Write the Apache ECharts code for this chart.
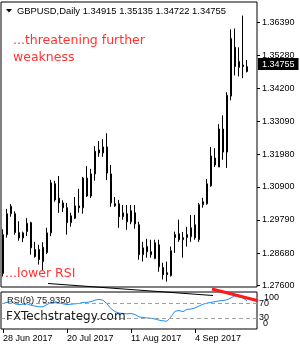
<!DOCTYPE html>
<html><head><meta charset="utf-8">
<script src="https://cdn.jsdelivr.net/npm/echarts@6/dist/echarts.min.js"></script>
<style>html,body{margin:0;padding:0;background:#fff}#c{width:300px;height:350px}</style>
</head><body><div id="c"></div>
<script>
// ---------- data ----------
const symbolName = 'GBPUSD,Daily';
const dates = ['2017-06-28','2017-06-29','2017-06-30','2017-07-03','2017-07-04','2017-07-05','2017-07-06','2017-07-07',
  '2017-07-10','2017-07-11','2017-07-12','2017-07-13','2017-07-14','2017-07-17','2017-07-18','2017-07-19','2017-07-20',
  '2017-07-21','2017-07-24','2017-07-25','2017-07-26','2017-07-27','2017-07-28','2017-07-31','2017-08-01','2017-08-02',
  '2017-08-03','2017-08-04','2017-08-07','2017-08-08','2017-08-09','2017-08-10','2017-08-11','2017-08-14','2017-08-15',
  '2017-08-16','2017-08-17','2017-08-18','2017-08-21','2017-08-22','2017-08-23','2017-08-24','2017-08-25','2017-08-28',
  '2017-08-29','2017-08-30','2017-08-31','2017-09-01','2017-09-04','2017-09-05','2017-09-06','2017-09-07','2017-09-08',
  '2017-09-11','2017-09-12','2017-09-13','2017-09-14','2017-09-15','2017-09-18','2017-09-19','2017-09-20','2017-09-21'];
const emptySlots = ['', ' '];   // right-hand empty space of the chart
const opens  = [1.2800,1.2930,1.3000,1.3000,1.2937,1.2919,1.2940,1.2970,1.2880,1.2880,1.2840,1.2870,1.2936,1.3100,1.3052,1.3036,1.3020,
  1.2970,1.2985,1.3026,1.3020,1.3119,1.3059,1.3133,1.3213,1.3203,1.3223,1.3133,1.3033,1.3033,1.2990,1.3000,1.2973,1.3003,1.2963,
  1.2863,1.2890,1.2863,1.2850,1.2896,1.2820,1.2796,1.2793,1.2920,1.2933,1.2913,1.2920,1.2923,1.2963,1.2913,1.3030,1.3033,1.3093,
  1.3186,1.3156,1.3283,1.3206,1.3393,1.3556,1.3489,1.3497,1.34915];
const highs  = [1.2948,1.3016,1.3032,1.3008,1.2975,1.2940,1.2985,1.2973,1.2906,1.2896,1.2905,1.2953,1.3113,1.3110,1.3126,1.3045,1.3036,
  1.3003,1.3056,1.3083,1.3123,1.3159,1.3150,1.3226,1.3243,1.3249,1.3269,1.3163,1.3056,1.3046,1.3029,1.3029,1.3029,1.3029,1.2973,
  1.2906,1.2916,1.2913,1.2913,1.2913,1.2836,1.2840,1.2890,1.2940,1.2980,1.2939,1.2956,1.2996,1.2996,1.3036,1.3053,1.3116,1.3223,
  1.3219,1.3299,1.3329,1.3406,1.3616,1.3619,1.3556,1.3662,1.35135];
const lows   = [1.2790,1.2920,1.2990,1.2930,1.2910,1.2905,1.2925,1.2863,1.2853,1.2830,1.2810,1.2865,1.2925,1.3040,1.3003,1.3006,1.2930,
  1.2957,1.2982,1.3003,1.3000,1.3056,1.3052,1.3110,1.3190,1.3190,1.3112,1.3023,1.3023,1.2953,1.2980,1.2946,1.2965,1.2950,1.2846,
  1.2840,1.2853,1.2853,1.2848,1.2806,1.2780,1.2773,1.2790,1.2869,1.2906,1.2853,1.2890,1.2906,1.2913,1.2906,1.3020,1.3030,1.3090,
  1.3156,1.3156,1.3180,1.3153,1.3379,1.3462,1.3459,1.3453,1.34722];
const closes = [1.2930,1.3000,1.3025,1.2937,1.2919,1.2936,1.2968,1.2886,1.2857,1.2847,1.2888,1.2936,1.3103,1.3046,1.3036,1.3020,1.2970,
  1.2993,1.3026,1.3020,1.3119,1.3059,1.3133,1.3209,1.3203,1.3223,1.3136,1.3036,1.3026,1.2990,1.3003,1.2973,1.3010,1.2966,1.2863,
  1.2886,1.2873,1.2873,1.2903,1.2823,1.2796,1.2803,1.2876,1.2930,1.2913,1.2920,1.2930,1.2953,1.2920,1.3030,1.3040,1.3100,1.3193,
  1.3163,1.3283,1.3206,1.3396,1.3586,1.3492,1.3509,1.3492,1.34755];
const rsi = [69,72,74,68,66,67,68,64,62,60,60,66,72,71,70,68,66,67,68,69,72,72,74,78,80,78,68,55,47,43,42,41,42,39,33,31,30,29,27,24,
  22,21,33,48,50,47,53,54,57,62,67,70,72,74,76,77,79,84,90,87,84,75.935];
const priceTicks = [1.36390,1.35280,1.34200,1.33090,1.31980,1.30900,1.29790,1.28680,1.27600];
const rsiLevels = [70, 30];
const rsiRangeTicks = [0, 100];
const xTickIndex = [0, 16, 32, 48];
const xTickLabels = ['28 Jun 2017', '20 Jul 2017', '11 Aug 2017', '4 Sep 2017'];
const redTrend = [[52.25, 108], [63.75, 76.5]];     // [bar index, RSI value]
const blackTrend = [[11.25, 123], [52.5, 90.5]];    // [bar index, RSI value]
const notesTop = ['...threatening further', 'weakness'];
const noteBottom = '...lower RSI';
const watermark = 'FXTechstrategy.com';
const rsiPeriod = 9;

// ---------- chart ----------
const cats = dates.concat(emptySlots);
const candles = opens.map((o, i) => [o, closes[i], lows[i], highs[i]]);
const last = closes.length - 1;
const f5 = v => v.toFixed(5);
const titleText = symbolName + ' ' + f5(opens[last]) + ' ' + f5(highs[last]) + ' ' + f5(lows[last]) + ' ' + f5(closes[last]);
const AX = '"Liberation Sans", Arial, sans-serif';
const DJ = '"DejaVu Sans", sans-serif';

const chart = echarts.init(document.getElementById('c'), null, {renderer: 'canvas'});
chart.setOption({
  animation: false,
  backgroundColor: '#fff',
  grid: [
    {left: 1, top: 2, width: 256, height: 285, show: true, borderColor: '#000', borderWidth: 1, backgroundColor: 'transparent'},
    {left: 1, top: 292, width: 256, height: 37, show: true, borderColor: '#000', borderWidth: 1, backgroundColor: 'transparent'}
  ],
  xAxis: [
    {type: 'category', gridIndex: 0, data: cats, boundaryGap: true,
     axisLine: {show: false}, axisTick: {show: false}, axisLabel: {show: false}, splitLine: {show: false}},
    {type: 'category', gridIndex: 1, data: cats, boundaryGap: true,
     axisLine: {show: false},
     axisTick: {show: true, alignWithLabel: true, length: 4, lineStyle: {color: '#000'},
                interval: (idx) => xTickIndex.indexOf(idx) >= 0},
     axisLabel: {show: true, interval: 0, align: 'left', margin: 5, fontSize: 9, fontFamily: AX, color: '#000',
                 formatter: (v, idx) => { const k = xTickIndex.indexOf(idx); return k >= 0 ? xTickLabels[k] : ''; }},
     splitLine: {show: false}},
    {type: 'value', gridIndex: 1, min: -0.5, max: cats.length - 0.5, scale: true,
     axisLine: {show: false}, axisTick: {show: false}, axisLabel: {show: false}, splitLine: {show: false}}
  ],
  yAxis: [
    {type: 'value', gridIndex: 0, position: 'right', min: 1.2755, max: 1.37075,
     axisLine: {show: false}, splitLine: {show: false},
     axisTick: {show: true, customValues: priceTicks, length: 3, lineStyle: {color: '#000'}},
     axisLabel: {show: true, customValues: priceTicks, formatter: v => f5(v), fontSize: 9, fontFamily: AX, color: '#000', margin: 5}},
    {type: 'value', gridIndex: 1, position: 'right', min: 0, max: 100,
     axisLine: {show: false}, splitLine: {show: false}, axisTick: {show: false},
     axisLabel: {show: true, customValues: rsiLevels, hideOverlap: false, margin: 2, fontSize: 9, fontFamily: AX, color: '#000'}},
    {type: 'value', gridIndex: 1, position: 'right', min: 0, max: 100,
     axisLine: {show: false}, splitLine: {show: false}, axisTick: {show: false},
     axisLabel: {show: true, customValues: rsiRangeTicks, showMinLabel: true, showMaxLabel: true, hideOverlap: false,
       margin: 2, fontSize: 9, fontFamily: AX, color: '#000',
       formatter: v => v === 100 ? '{t|100}' : '{b|0}',
       rich: {t: {padding: [12, 0, 0, 5], fontSize: 9, fontFamily: AX}, b: {padding: [0, 0, 11, 4], fontSize: 9, fontFamily: AX}}}}
  ],
  series: [
    {type: 'candlestick', xAxisIndex: 0, yAxisIndex: 0, data: candles, barWidth: 2,
     itemStyle: {color: '#fff', color0: '#000', borderColor: '#000', borderColor0: '#000', borderWidth: 1},
     markLine: {silent: true, symbol: ['none', 'none'], animation: false,
       lineStyle: {color: 'rgba(0,0,0,0)', width: 1, type: 'solid'},
       label: {show: true, position: 'end', distance: 1, formatter: () => f5(closes[last]),
               backgroundColor: '#000', color: '#fff', padding: [2, 4, 1, 4], fontSize: 9, fontFamily: AX},
       data: [{yAxis: closes[last]}]}},
    {type: 'line', xAxisIndex: 1, yAxisIndex: 1, data: rsi, symbol: 'none', lineStyle: {color: '#1E90FF', width: 1},
     markLine: {silent: true, symbol: ['none', 'none'], animation: false, label: {show: false},
       lineStyle: {color: '#a0a0a0', type: [4, 3], width: 1},
       data: rsiLevels.map(v => ({yAxis: v}))}},
    {type: 'line', xAxisIndex: 2, yAxisIndex: 1, data: blackTrend, symbol: 'none', clip: false, z: 5,
     lineStyle: {color: '#000', width: 1.2}},
    {type: 'line', xAxisIndex: 2, yAxisIndex: 1, data: redTrend, symbol: 'none', clip: false, z: 6,
     lineStyle: {color: '#ff1a1a', width: 3}}
  ],
  graphic: [
    {type: 'polygon', z: 100, shape: {points: [[6, 9], [12, 9], [9, 12.5]]}, style: {fill: '#000'}},
    {type: 'text', z: 100, x: 17, y: 11, style: {text: titleText, fill: '#000', fontSize: 9.4, fontFamily: AX, verticalAlign: 'middle'}},
    {type: 'text', z: 100, x: 13, y: 41, style: {text: notesTop[0], fill: '#ff3333', fontSize: 12.5, fontFamily: DJ, verticalAlign: 'middle'}},
    {type: 'text', z: 100, x: 13, y: 58, style: {text: notesTop[1], fill: '#ff3333', fontSize: 12.5, fontFamily: DJ, verticalAlign: 'middle'}},
    {type: 'text', z: 100, x: 5, y: 274, style: {text: noteBottom, fill: '#ff3333', fontSize: 12.5, fontFamily: DJ, verticalAlign: 'middle'}},
    {type: 'text', z: 100, x: 7, y: 300, style: {text: 'RSI(' + rsiPeriod + ') ' + rsi[last].toFixed(4), fill: '#222', fontSize: 9.4, fontFamily: AX, verticalAlign: 'middle'}},
    {type: 'text', z: 100, x: 6, y: 317, style: {text: watermark, fill: '#1a1a1a', fontSize: 12, fontFamily: DJ, verticalAlign: 'middle'}}
  ]
});
</script></body></html>
